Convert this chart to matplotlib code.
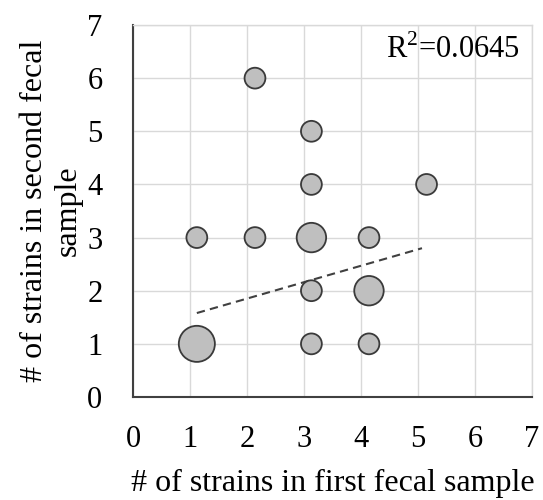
import numpy as np
import matplotlib
matplotlib.use("Agg")
from matplotlib import pyplot as plt

plt.rcParams["font.family"] = ["Liberation Serif", "DejaVu Serif"]
plt.rcParams["mathtext.fontset"] = "custom"
plt.rcParams["mathtext.rm"] = "Liberation Serif"

# strain counts per patient: first sample (x), second sample (y), number of patients
first_sample = [1.12, 1.12, 2.14, 2.14, 3.13, 3.13, 3.13, 3.13, 3.13, 4.14, 4.14, 4.14, 5.15]
second_sample = [3, 1, 6, 3, 5, 4, 3, 2, 1, 3, 2, 1, 4]
n_patients = [1, 3, 1, 1, 1, 1, 2, 1, 1, 1, 2, 1, 1]

# linear trendline endpoints
trend_x = [1.12, 5.07]
trend_y = [1.58, 2.80]
r_squared = 0.0645

fig = plt.figure(figsize=(5.43, 5.00), dpi=100)
ax = fig.add_axes([133 / 543, 103 / 500, 399 / 543, 372 / 500])

sizes = [225 * n for n in n_patients]
ax.scatter(first_sample, second_sample, s=sizes, color="#BFBFBF",
           edgecolor="#3A3A3A", linewidth=1.3, zorder=3, clip_on=False)
ax.plot(trend_x, trend_y, linestyle=(0, (4, 2.5)), color="#404040",
        linewidth=1.5, zorder=2)

ax.set_xlim(0, 7)
ax.set_ylim(0, 7)
ax.set_xticks(range(8))
ax.set_yticks(range(8))
ax.grid(True, color="#D9D9D9", linewidth=1.0, zorder=0)
ax.set_axisbelow(True)
ax.tick_params(length=0, labelsize=22, pad=20)
ax.tick_params(axis="y", pad=22)

for side in ["top", "right"]:
    ax.spines[side].set_color("#D9D9D9")
    ax.spines[side].set_linewidth(1.0)
for side in ["left", "bottom"]:
    ax.spines[side].set_color("#404040")
    ax.spines[side].set_linewidth(1.5)

ax.set_xlabel("# of strains in first fecal sample", fontsize=23, labelpad=11)
ax.set_ylabel("# of strains in second fecal\nsample", fontsize=23,
              labelpad=3, linespacing=1.25)

ax.text(0.97, 0.975, rf"$\mathrm{{R}}^2$={r_squared}", transform=ax.transAxes,
        ha="right", va="top", fontsize=22)

fig.savefig("out.png", dpi=100)
